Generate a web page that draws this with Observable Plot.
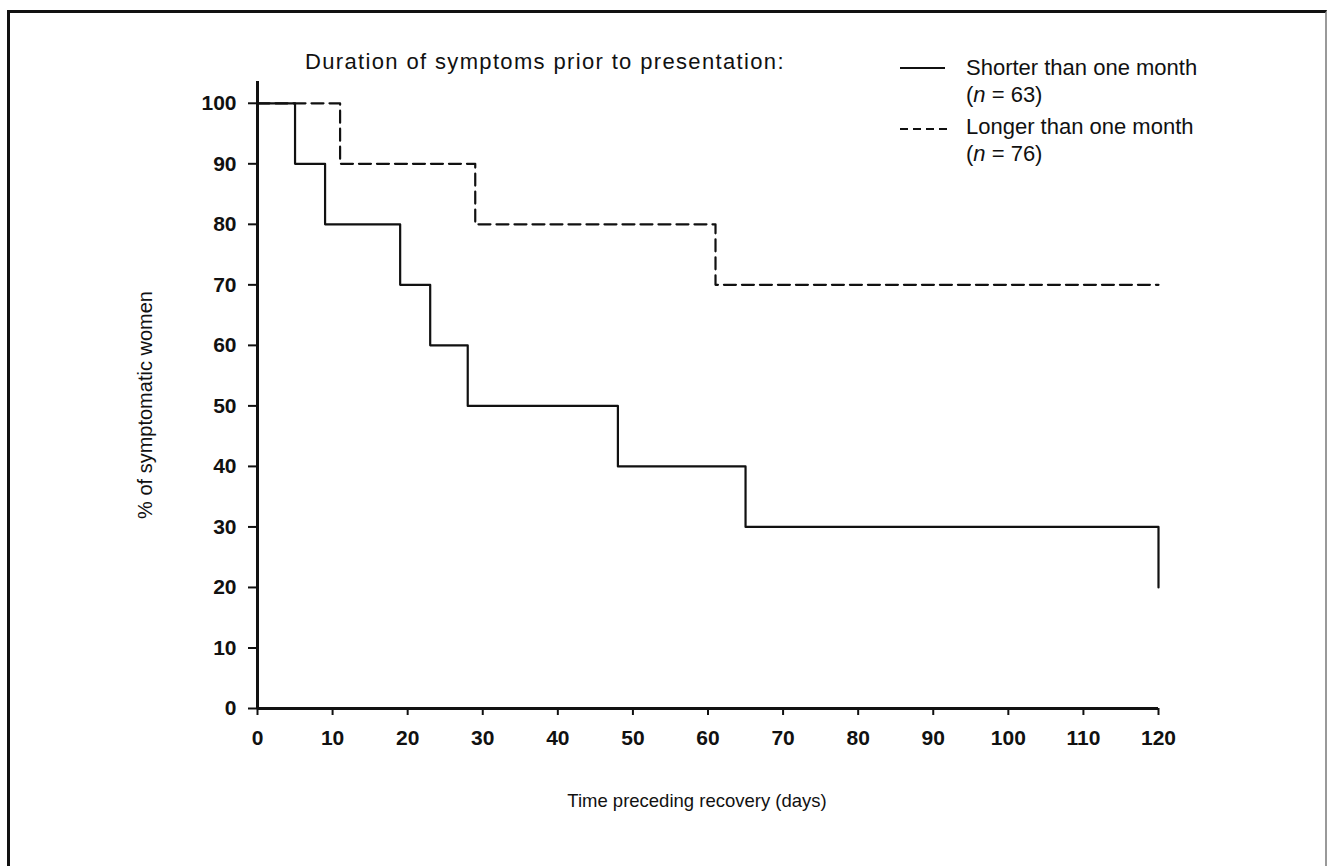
<!DOCTYPE html>
<html>
<head>
<meta charset="utf-8">
<script src="https://cdn.jsdelivr.net/npm/d3@7"></script>
<script src="https://cdn.jsdelivr.net/npm/@observablehq/plot@0.6"></script>
<style>
  html, body { margin:0; padding:0; background:#fff; }
  body { width:1331px; height:866px; overflow:hidden; position:relative; font-family:"Liberation Sans", Arial, sans-serif; color:#111; }
  #frame { position:absolute; left:7px; top:10px; width:1320px; height:900px; border-top:3px solid #111; border-left:3px solid #111; border-right:2px solid #999; box-sizing:border-box; }
  #chart { position:absolute; left:0; top:0; }
  .txt { position:absolute; white-space:nowrap; font-size:19px; line-height:1; }
  #chart g[aria-label="x-axis tick label"] text, #chart g[aria-label="y-axis tick label"] text { font-weight:bold; }
</style>
</head>
<body>
<div id="frame"></div>
<div id="chart"></div>
<div class="txt" id="title" style="left:305px; top:51px; font-size:22px; letter-spacing:1.35px;">Duration of symptoms prior to presentation:</div>
<svg style="position:absolute; left:0; top:0;" width="1331" height="866">
  <line x1="900" x2="945" y1="68" y2="68" stroke="#111" stroke-width="2"/>
  <line x1="900" x2="950" y1="129" y2="129" stroke="#111" stroke-width="2" stroke-dasharray="8,5"/>
</svg>
<div class="txt" style="left:966px; top:57px; font-size:22px;">Shorter than one month</div>
<div class="txt" style="left:966px; top:84px; font-size:22px;">(<i>n</i> = 63)</div>
<div class="txt" style="left:966px; top:116px; font-size:22px;">Longer than one month</div>
<div class="txt" style="left:966px; top:143px; font-size:22px;">(<i>n</i> = 76)</div>
<div class="txt" id="xlab" style="left:697px; top:792px; font-size:18.5px; transform:translateX(-50%);">Time preceding recovery (days)</div>
<div class="txt" id="ylab" style="left:145px; top:405px; font-size:20px; transform:translate(-50%,-50%) rotate(-90deg);">% of symptomatic women</div>
<script>
// Data
const shortDays = [0, 5, 9, 19, 23, 28, 48, 65, 120];
const shortPct  = [100, 90, 80, 70, 60, 50, 40, 30, 20];
const longDays  = [0, 11, 29, 61, 120];
const longPct   = [100, 90, 80, 70, 70];
const xTicks = [0, 10, 20, 30, 40, 50, 60, 70, 80, 90, 100, 110, 120];
const yTicks = [0, 10, 20, 30, 40, 50, 60, 70, 80, 90, 100];

const shortData = shortDays.map((d, i) => ({day: d, pct: shortPct[i]}));
const longData  = longDays.map((d, i) => ({day: d, pct: longPct[i]}));

const plot = Plot.plot({
  width: 1331,
  height: 866,
  marginLeft: 257,
  marginRight: 173,
  marginTop: 81,
  marginBottom: 158,
  style: {fontFamily: "Liberation Sans, Arial, sans-serif", fontSize: "21px", color: "#111", background: "transparent"},
  x: {domain: [0, 120]},
  y: {domain: [0, 103.6]},
  marks: [
    Plot.axisX({ticks: xTicks, tickSize: 7, tickPadding: 15, fontSize: 21, strokeWidth: 2, label: null, tickFormat: d => String(d)}),
    Plot.axisY({ticks: yTicks, tickSize: 9, tickPadding: 12, fontSize: 21, strokeWidth: 2, label: null, tickFormat: d => String(d)}),
    Plot.ruleX([0], {stroke: "#111", strokeWidth: 3}),
    Plot.ruleY([0], {stroke: "#111", strokeWidth: 3}),
    Plot.line(shortData, {x: "day", y: "pct", curve: "step-after", stroke: "#111", strokeWidth: 2.2}),
    Plot.line(longData, {x: "day", y: "pct", curve: "step-after", stroke: "#111", strokeWidth: 2.2, strokeDasharray: "12,6"})
  ]
});
document.getElementById("chart").appendChild(plot);
</script>
</body>
</html>
